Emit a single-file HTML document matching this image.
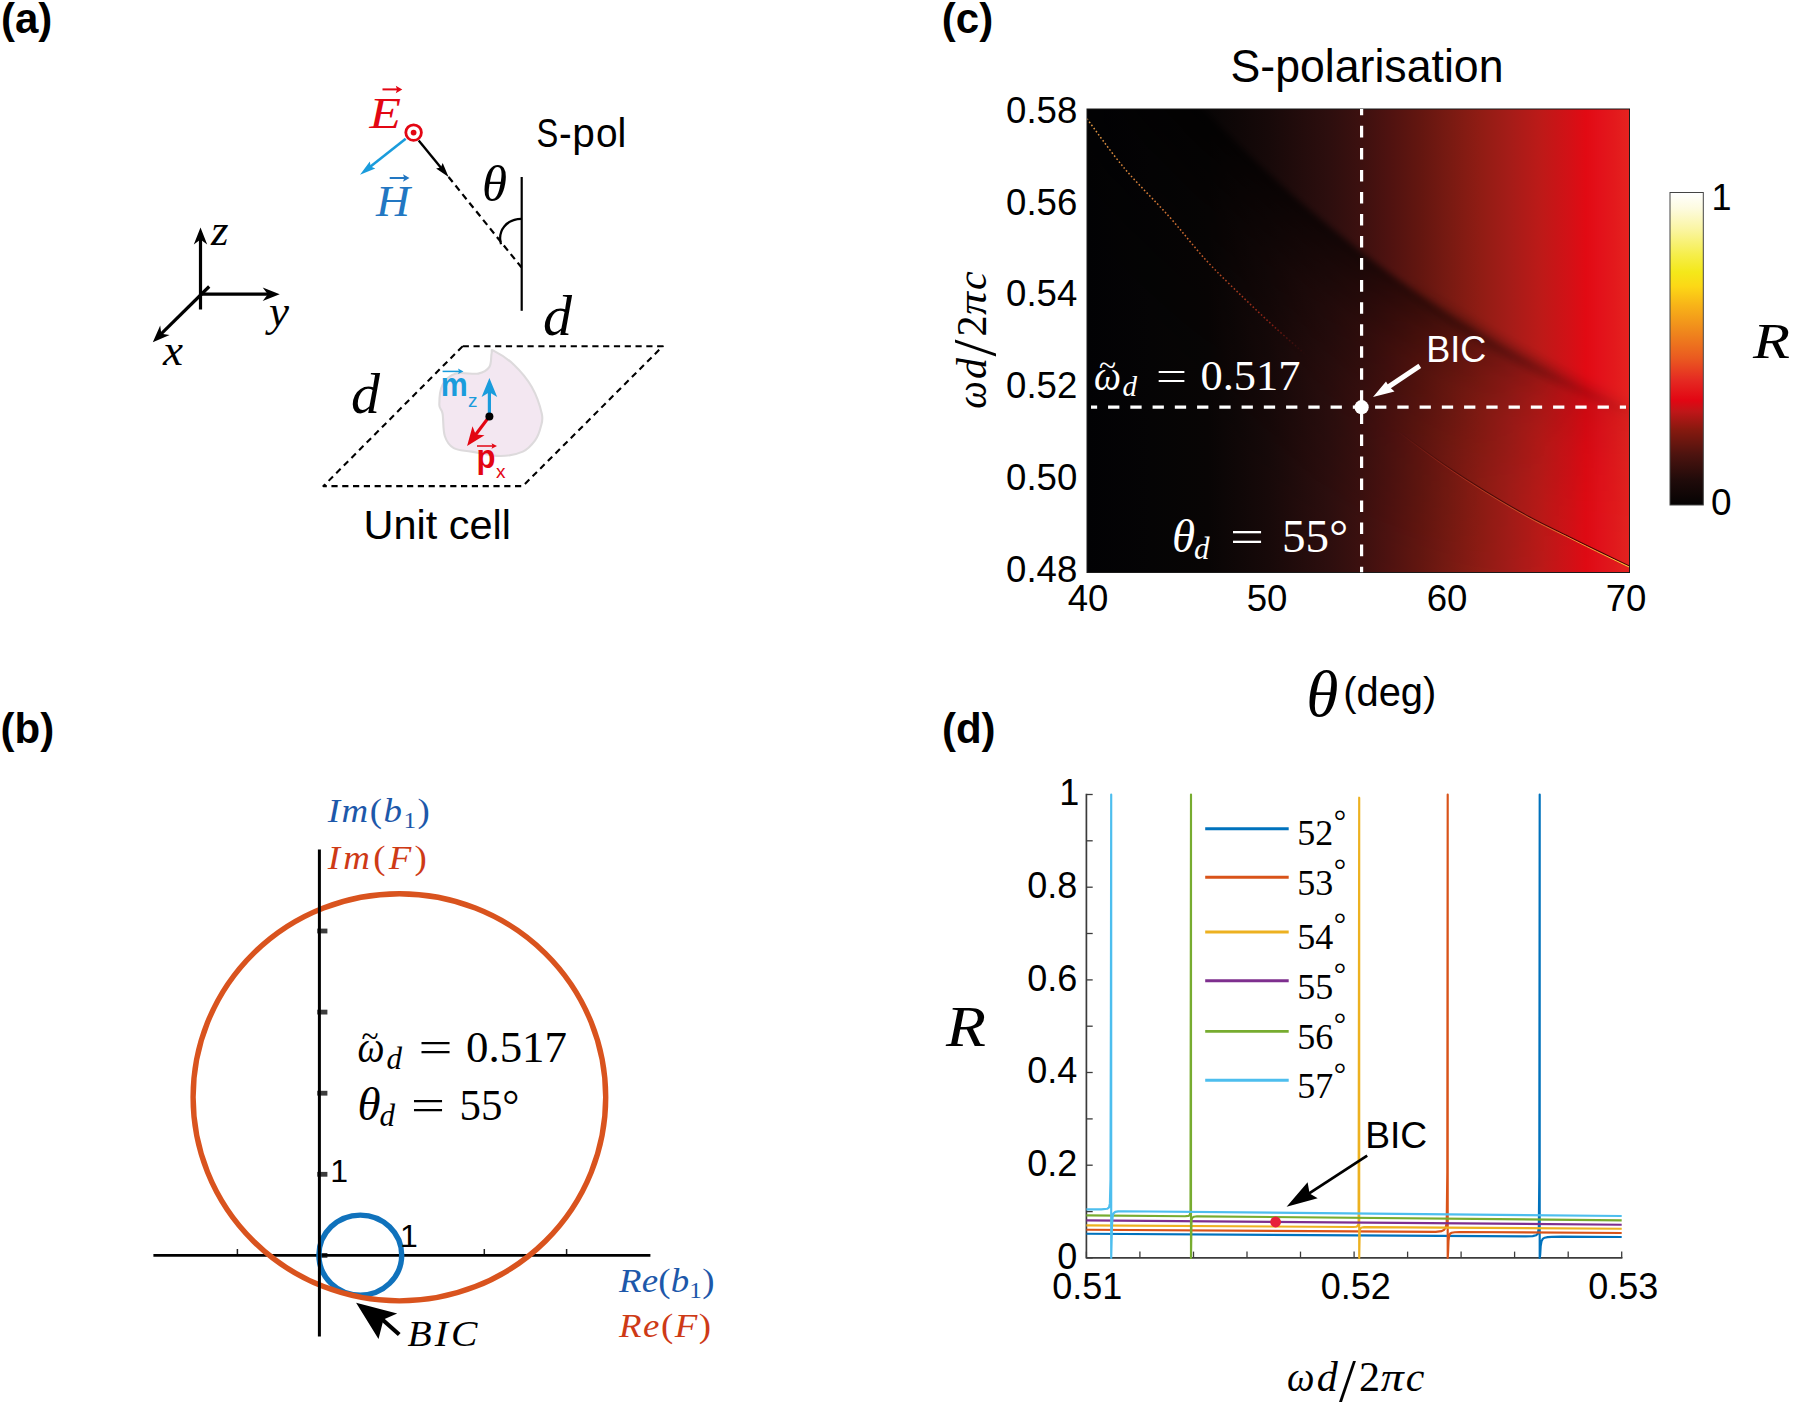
<!DOCTYPE html>
<html><head><meta charset="utf-8"><title>Figure</title>
<style>html,body{margin:0;padding:0;background:#fff}svg{display:block}</style>
</head><body>
<svg width="1795" height="1405" viewBox="0 0 1795 1405">
<rect width="1795" height="1405" fill="#fff"/>
<g id="panel-a">
<text x="1" y="33" font-family='"Liberation Sans", sans-serif' font-size="42" fill="#000" font-weight="bold" >(a)</text>
<line x1="200.5" y1="309.5" x2="200.5" y2="238.2" stroke="#000" stroke-width="3.2"/>
<polygon points="200.5,227.5 207.2,244.5 200.5,239.4 193.8,244.5" fill="#000"/>
<line x1="200.5" y1="294.2" x2="269.0" y2="294.2" stroke="#000" stroke-width="3.2"/>
<polygon points="279.7,294.2 262.7,300.9 267.8,294.2 262.7,287.4" fill="#000"/>
<line x1="209.2" y1="286.5" x2="160.4" y2="334.7" stroke="#000" stroke-width="3.2"/>
<polygon points="152.8,342.2 160.2,325.5 161.3,333.8 169.6,335.1" fill="#000"/>
<text x="211" y="244.8" font-family='"Liberation Serif", serif' font-size="45" fill="#000" font-style="italic" >z</text>
<text x="269" y="325.5" font-family='"Liberation Serif", serif' font-size="45" fill="#000" font-style="italic" >y</text>
<text x="163" y="364.6" font-family='"Liberation Serif", serif' font-size="45" fill="#000" font-style="italic" >x</text>
<line x1="521.7" y1="177" x2="521.7" y2="310.8" stroke="#000" stroke-width="2.2"/>
<line x1="448.6" y1="177" x2="521.4" y2="267.3" stroke="#000" stroke-width="2.2" stroke-dasharray="6.5 4.5"/>
<line x1="418.7" y1="140.5" x2="441.6" y2="168.4" stroke="#000" stroke-width="2.4"/>
<polygon points="448.6,177.0 436.1,168.5 440.8,167.5 442.7,163.1" fill="#000"/>
<line x1="405.7" y1="138.7" x2="369.6" y2="167.2" stroke="#1a9cdc" stroke-width="2.6"/>
<polygon points="360.0,174.8 369.8,161.4 370.7,166.4 375.3,168.4" fill="#1a9cdc"/>
<circle cx="413.6" cy="132.6" r="7.8" fill="#fff" stroke="#e30613" stroke-width="2.8"/>
<circle cx="413.6" cy="132.6" r="2.9" fill="#e30613"/>
<path d="M521.4 218.8 C506.6 219.2 497.3 230.3 501 244.2" fill="none" stroke="#000" stroke-width="2.2"/>
<text x="369.6" y="127.6" font-family='"Liberation Serif", serif' font-size="44" fill="#e30613" font-style="italic" textLength="31.5" lengthAdjust="spacingAndGlyphs" >E</text>
<line x1="382.5" y1="89.4" x2="397.6" y2="89.4" stroke="#e30613" stroke-width="2"/>
<polygon points="402.3,89.4 395.8,93.2 397.1,89.4 395.8,85.7" fill="#e30613"/>
<text x="376" y="216.4" font-family='"Liberation Serif", serif' font-size="44" fill="#2277c2" font-style="italic" textLength="34" lengthAdjust="spacingAndGlyphs" >H</text>
<line x1="389.7" y1="178.0" x2="404.8" y2="178.0" stroke="#2277c2" stroke-width="2"/>
<polygon points="409.5,178.0 403.0,181.8 404.3,178.0 403.0,174.2" fill="#2277c2"/>
<text x="482" y="201.4" font-family='"Liberation Serif", serif' font-size="51" fill="#000" font-style="italic" >θ</text>
<text y="147" font-family='"Liberation Sans", sans-serif' font-size="41" fill="#000"><tspan x="536.4" textLength="21.8" lengthAdjust="spacingAndGlyphs">S</tspan><tspan x="559" textLength="12.6" lengthAdjust="spacingAndGlyphs">-</tspan><tspan x="572.3" textLength="22.6" lengthAdjust="spacingAndGlyphs">p</tspan><tspan x="595.9" textLength="21.6" lengthAdjust="spacingAndGlyphs">o</tspan><tspan x="617.6" textLength="8.8" lengthAdjust="spacingAndGlyphs">l</tspan></text>
<polygon points="462.7,346.2 662.8,346.2 522.8,486.1 323.4,486.1" fill="none" stroke="#000" stroke-width="2.1" stroke-dasharray="6.2 4.6" stroke-linejoin="round"/>
<path d="M493.9 350.9 C497.6 352.8 507.6 358.7 513.9 364.7 C520.2 370.7 527.1 378.8 531.8 387.0 C536.4 395.2 540.3 407.0 541.8 413.7 C543.3 420.4 541.8 422.7 540.7 427.1 C539.6 431.6 538.1 436.3 535.1 440.4 C532.1 444.5 528.5 449.0 522.8 451.6 C517.0 454.2 509.1 456.0 500.6 456.0 C492.1 456.0 479.4 452.9 471.6 451.6 C463.8 450.3 458.3 450.8 453.8 448.2 C449.3 445.6 446.7 441.8 444.8 436.0 C442.9 430.2 443.5 418.9 442.6 413.7 C441.7 408.5 439.3 409.6 439.3 404.8 C439.3 400.0 439.8 389.9 442.6 384.7 C445.4 379.5 450.1 375.5 456.0 373.6 C461.9 371.8 472.7 374.7 478.3 373.6 C483.9 372.5 487.2 370.2 489.4 366.9 C491.6 363.5 490.9 356.2 491.6 353.5 C492.4 350.8 490.2 349.0 493.9 350.9Z" fill="#f3e7f1" stroke="#dddadc" stroke-width="2.1"/>
<line x1="489.4" y1="416.4" x2="489.4" y2="390.8" stroke="#1a9cdc" stroke-width="3.2"/>
<polygon points="489.4,378.0 497.2,397.0 489.4,392.2 481.6,397.0" fill="#1a9cdc"/>
<line x1="489.4" y1="416.4" x2="474.8" y2="435.8" stroke="#e30613" stroke-width="3.2"/>
<polygon points="467.1,446.0 472.5,426.3 475.7,434.6 484.5,435.3" fill="#e30613"/>
<circle cx="489.4" cy="416.4" r="4" fill="#000"/>
<text x="440.8" y="395.9" font-family='"Liberation Sans", sans-serif' font-size="34" fill="#1a9cdc" font-weight="bold" textLength="27" lengthAdjust="spacingAndGlyphs" >m</text>
<text x="468" y="407" font-family='"Liberation Sans", sans-serif' font-size="19" fill="#1a9cdc" >z</text>
<line x1="442.6" y1="371.4" x2="459.5" y2="371.4" stroke="#1a9cdc" stroke-width="1.5"/>
<polygon points="463.5,371.4 458.0,374.1 459.1,371.4 458.0,368.6" fill="#1a9cdc"/>
<text x="476.6" y="468.3" font-family='"Liberation Sans", sans-serif' font-size="34" fill="#e30613" font-weight="bold" textLength="19" lengthAdjust="spacingAndGlyphs" >p</text>
<text x="496" y="478" font-family='"Liberation Sans", sans-serif' font-size="19" fill="#e30613" >x</text>
<line x1="477.0" y1="446.0" x2="493.0" y2="446.0" stroke="#e30613" stroke-width="1.5"/>
<polygon points="497.0,446.0 491.5,448.8 492.6,446.0 491.5,443.2" fill="#e30613"/>
<text x="543" y="334.6" font-family='"Liberation Serif", serif' font-size="58" fill="#000" font-style="italic" >d</text>
<text x="351" y="412.6" font-family='"Liberation Serif", serif' font-size="58" fill="#000" font-style="italic" >d</text>
<text x="363.5" y="538.5" font-family='"Liberation Sans", sans-serif' font-size="40.5" fill="#000" textLength="147.5" lengthAdjust="spacingAndGlyphs" >Unit cell</text>
</g>
<g id="panel-b">
<text x="0.5" y="743.2" font-family='"Liberation Sans", sans-serif' font-size="42" fill="#000" font-weight="bold" >(b)</text>
<line x1="237.4" y1="1255.4" x2="237.4" y2="1249" stroke="#222" stroke-width="1.5"/>
<line x1="402.0" y1="1255.4" x2="402.0" y2="1249" stroke="#222" stroke-width="1.5"/>
<line x1="484.3" y1="1255.4" x2="484.3" y2="1249" stroke="#222" stroke-width="1.5"/>
<line x1="566.6" y1="1255.4" x2="566.6" y2="1249" stroke="#222" stroke-width="1.5"/>
<rect x="317.2" y="1253.0" width="10.2" height="4.8" fill="#3c3c3c"/>
<rect x="317.2" y="1171.9" width="10.2" height="4.8" fill="#3c3c3c"/>
<rect x="317.2" y="1090.8" width="10.2" height="4.8" fill="#3c3c3c"/>
<rect x="317.2" y="1009.7" width="10.2" height="4.8" fill="#3c3c3c"/>
<rect x="317.2" y="928.6" width="10.2" height="4.8" fill="#3c3c3c"/>
<line x1="153.4" y1="1255.4" x2="650.4" y2="1255.4" stroke="#000" stroke-width="2.8"/>
<ellipse cx="360.3" cy="1255.1" rx="41.4" ry="40" fill="none" stroke="#1072bc" stroke-width="5.4"/>
<ellipse cx="399.4" cy="1097.3" rx="206.3" ry="203.6" fill="none" stroke="#d9531e" stroke-width="5.4"/>
<line x1="319.4" y1="849.4" x2="319.4" y2="1336.6" stroke="#000" stroke-width="3"/>
<text x="330.3" y="1182.1" font-family='"Liberation Sans", sans-serif' font-size="32" fill="#000" >1</text>
<text x="400" y="1246.6" font-family='"Liberation Sans", sans-serif' font-size="32" fill="#000" >1</text>
<text x="0" y="0" font-family='"Liberation Serif", serif' font-size="33.5" fill="#1d58aa" textLength="92.73" lengthAdjust="spacing"  transform="translate(327.8,821.6) scale(1.1,1)"><tspan font-style="italic">Im</tspan>(<tspan font-style="italic">b</tspan><tspan font-size="23" dy="6">1</tspan><tspan dy="-6">)</tspan></text>
<text x="0" y="0" font-family='"Liberation Serif", serif' font-size="33.5" fill="#ce3a16" textLength="90.0" lengthAdjust="spacing"  transform="translate(327.8,868.6) scale(1.1,1)"><tspan font-style="italic">Im</tspan>(<tspan font-style="italic">F</tspan>)</text>
<text x="0" y="0" font-family='"Liberation Serif", serif' font-size="33.5" fill="#1d58aa" textLength="86.82" lengthAdjust="spacing"  transform="translate(619,1292.1) scale(1.1,1)"><tspan font-style="italic">Re</tspan>(<tspan font-style="italic">b</tspan><tspan font-size="23" dy="6">1</tspan><tspan dy="-6">)</tspan></text>
<text x="0" y="0" font-family='"Liberation Serif", serif' font-size="33.5" fill="#ce3a16" textLength="83.64" lengthAdjust="spacing"  transform="translate(619,1337.3) scale(1.1,1)"><tspan font-style="italic">Re</tspan>(<tspan font-style="italic">F</tspan>)</text>
<line x1="399.2" y1="1334.5" x2="375" y2="1313" stroke="#000" stroke-width="4.2"/>
<polygon points="356.1,1302.8 397.2,1313.4 383.5,1319.5 378.5,1338.9" fill="#000"/>
<text x="0" y="0" font-family='"Liberation Serif", serif' font-size="35" fill="#000" font-style="italic" textLength="61.95" lengthAdjust="spacing"  transform="translate(407.4,1345.6) scale(1.13,1)">BIC</text>
<text x="357.5" y="1062" font-family='"Liberation Serif", serif' font-size="45" fill="#000" font-style="italic" textLength="27" lengthAdjust="spacingAndGlyphs" >ω</text>
<text x="361.5" y="1046.5" font-family='"Liberation Serif", serif' font-size="34" fill="#000" textLength="17" lengthAdjust="spacingAndGlyphs" >~</text>
<text x="386.5" y="1068.5" font-family='"Liberation Serif", serif' font-size="31" fill="#000" font-style="italic" >d</text>
<text x="418.5" y="1062" font-family='"Liberation Serif", serif' font-size="45" fill="#000" textLength="34" lengthAdjust="spacingAndGlyphs" >=</text>
<text x="466" y="1062" font-family='"Liberation Serif", serif' font-size="45" fill="#000" textLength="101" lengthAdjust="spacingAndGlyphs" >0.517</text>
<text x="357.5" y="1119.5" font-family='"Liberation Serif", serif' font-size="47" fill="#000" font-style="italic" >θ</text>
<text x="379.5" y="1126" font-family='"Liberation Serif", serif' font-size="31" fill="#000" font-style="italic" >d</text>
<text x="411" y="1119.5" font-family='"Liberation Serif", serif' font-size="45" fill="#000" textLength="34" lengthAdjust="spacingAndGlyphs" >=</text>
<text x="459.5" y="1119.5" font-family='"Liberation Serif", serif' font-size="45" fill="#000" textLength="60" lengthAdjust="spacingAndGlyphs" >55°</text>
</g>
<g id="panel-c">
<text x="941.8" y="33" font-family='"Liberation Sans", sans-serif' font-size="42" fill="#000" font-weight="bold" >(c)</text>
<text x="1230.5" y="81.6" font-family='"Liberation Sans", sans-serif' font-size="45.5" fill="#000" textLength="273" lengthAdjust="spacingAndGlyphs" >S-polarisation</text>
<defs>
<linearGradient id="hm" gradientUnits="userSpaceOnUse" x1="1087" y1="0" x2="1629.5" y2="0">
<stop offset="0.0000" stop-color="#020204"/>
<stop offset="0.1161" stop-color="#050405"/>
<stop offset="0.2230" stop-color="#080505"/>
<stop offset="0.3336" stop-color="#170909"/>
<stop offset="0.4461" stop-color="#2d0e0e"/>
<stop offset="0.5014" stop-color="#3b100f"/>
<stop offset="0.5576" stop-color="#4f1210"/>
<stop offset="0.6138" stop-color="#631610"/>
<stop offset="0.6691" stop-color="#791a12"/>
<stop offset="0.7244" stop-color="#901c14"/>
<stop offset="0.7797" stop-color="#a51c18"/>
<stop offset="0.8350" stop-color="#bc1a18"/>
<stop offset="0.8922" stop-color="#d41016"/>
<stop offset="0.9198" stop-color="#e20a13"/>
<stop offset="0.9456" stop-color="#e3111a"/>
<stop offset="0.9714" stop-color="#e3191c"/>
<stop offset="1.0000" stop-color="#e42320"/>
</linearGradient>
<linearGradient id="cb" x1="0" y1="1" x2="0" y2="0">
<stop offset="0" stop-color="#050303"/>
<stop offset="0.08" stop-color="#200b0a"/>
<stop offset="0.16" stop-color="#4c130f"/>
<stop offset="0.24" stop-color="#86190f"/>
<stop offset="0.3" stop-color="#c01618"/>
<stop offset="0.335" stop-color="#e20613"/>
<stop offset="0.4" stop-color="#e52a22"/>
<stop offset="0.47" stop-color="#ea5a20"/>
<stop offset="0.56" stop-color="#f08a1c"/>
<stop offset="0.64" stop-color="#f8b418"/>
<stop offset="0.7" stop-color="#fcd816"/>
<stop offset="0.745" stop-color="#f4e81a"/>
<stop offset="0.8" stop-color="#f6ee4a"/>
<stop offset="0.88" stop-color="#faf5a0"/>
<stop offset="0.95" stop-color="#fdfbe0"/>
<stop offset="1" stop-color="#ffffff"/>
</linearGradient>
<clipPath id="hmclip"><rect x="1087.0" y="109.0" width="542.5" height="463.5"/></clipPath>
<clipPath id="belowray"><path d="M1141.2 41.6 L1150.3 52.0 L1159.3 62.2 L1168.4 72.3 L1177.4 82.2 L1186.5 91.9 L1195.5 101.5 L1204.5 110.9 L1213.6 120.2 L1222.6 129.3 L1231.7 138.3 L1240.7 147.1 L1249.8 155.8 L1258.8 164.4 L1267.8 172.8 L1276.9 181.1 L1285.9 189.2 L1295.0 197.2 L1304.0 205.0 L1313.0 212.8 L1322.1 220.3 L1331.1 227.8 L1340.2 235.1 L1349.2 242.3 L1358.2 249.4 L1367.3 256.4 L1376.3 263.2 L1385.4 269.9 L1394.4 276.5 L1403.5 282.9 L1412.5 289.2 L1421.5 295.5 L1430.6 301.6 L1439.6 307.5 L1448.7 313.4 L1457.7 319.2 L1466.8 324.8 L1475.8 330.3 L1484.8 335.7 L1493.9 341.0 L1502.9 346.2 L1512.0 351.3 L1521.0 356.3 L1530.0 361.1 L1539.1 365.9 L1548.1 370.5 L1557.2 375.1 L1566.2 379.5 L1575.2 383.9 L1584.3 388.1 L1593.3 392.2 L1602.4 396.3 L1611.4 400.2 L1620.5 404.0 L1629.5 407.7 L1638.5 411.4 L1647.6 414.9 L1656.6 418.3 L1665.7 421.7 L1674.7 424.9 L1683.8 428.0 L1692.8 431.1 L1701.8 434.0 L1709.5 434.0 L1709.5 652.5 L1007.0 652.5 L1007.0 29.0 L1141.2 41.6 Z"/></clipPath>
<filter id="blur18" filterUnits="userSpaceOnUse" x="700" y="-300" width="1400" height="1300"><feGaussianBlur stdDeviation="16"/></filter>
<filter id="blur5" filterUnits="userSpaceOnUse" x="700" y="-300" width="1400" height="1300"><feGaussianBlur stdDeviation="5"/></filter>
<filter id="blur3" filterUnits="userSpaceOnUse" x="700" y="-300" width="1400" height="1300"><feGaussianBlur stdDeviation="3.2"/></filter>
<linearGradient id="rayfade" gradientUnits="userSpaceOnUse" x1="1200" y1="0" x2="1629" y2="0"><stop offset="0.000" stop-color="#000" stop-opacity="1"/><stop offset="0.373" stop-color="#000" stop-opacity="0.8"/><stop offset="0.559" stop-color="#000" stop-opacity="0.62"/><stop offset="0.699" stop-color="#000" stop-opacity="0.38"/><stop offset="0.839" stop-color="#000" stop-opacity="0.16"/><stop offset="1.000" stop-color="#000" stop-opacity="0.04"/></linearGradient>
<linearGradient id="rayfadeW" gradientUnits="userSpaceOnUse" x1="1200" y1="0" x2="1629" y2="0"><stop offset="0.000" stop-color="#000" stop-opacity="1"/><stop offset="0.373" stop-color="#000" stop-opacity="0.85"/><stop offset="0.513" stop-color="#000" stop-opacity="0.6"/><stop offset="0.606" stop-color="#000" stop-opacity="0.45"/><stop offset="0.793" stop-color="#000" stop-opacity="0.2"/><stop offset="1.000" stop-color="#000" stop-opacity="0.05"/></linearGradient>
<filter id="blurA" filterUnits="userSpaceOnUse" x="700" y="-300" width="1400" height="1300"><feGaussianBlur stdDeviation="2"/></filter>
<filter id="blurB" filterUnits="userSpaceOnUse" x="700" y="-300" width="1400" height="1300"><feGaussianBlur stdDeviation="5"/></filter>
<filter id="blurC" filterUnits="userSpaceOnUse" x="700" y="-300" width="1400" height="1300"><feGaussianBlur stdDeviation="10"/></filter>
<filter id="blurD" filterUnits="userSpaceOnUse" x="700" y="-300" width="1400" height="1300"><feGaussianBlur stdDeviation="20"/></filter>
<filter id="blurE" filterUnits="userSpaceOnUse" x="700" y="-300" width="1400" height="1300"><feGaussianBlur stdDeviation="35"/></filter>
<linearGradient id="rayfade2" gradientUnits="userSpaceOnUse" x1="1200" y1="0" x2="1629" y2="0"><stop offset="0.000" stop-color="#000" stop-opacity="0"/><stop offset="0.466" stop-color="#000" stop-opacity="0.0"/><stop offset="0.629" stop-color="#000" stop-opacity="0.22"/><stop offset="0.793" stop-color="#000" stop-opacity="0.2"/><stop offset="0.909" stop-color="#000" stop-opacity="0.1"/><stop offset="1.000" stop-color="#000" stop-opacity="0.03"/></linearGradient>
<filter id="blur1" filterUnits="userSpaceOnUse" x="700" y="-300" width="1400" height="1300"><feGaussianBlur stdDeviation="0.6"/></filter>
</defs>
<rect x="1087.0" y="109.0" width="542.5" height="463.5" fill="url(#hm)"/>
<g clip-path="url(#hmclip)">
<g filter="url(#blur3)"><g clip-path="url(#belowray)">
<path d="M1141.2 41.6 L1150.3 52.0 L1159.3 62.2 L1168.4 72.3 L1177.4 82.2 L1186.5 91.9 L1195.5 101.5 L1204.5 110.9 L1213.6 120.2 L1222.6 129.3 L1231.7 138.3 L1240.7 147.1 L1249.8 155.8 L1258.8 164.4 L1267.8 172.8 L1276.9 181.1 L1285.9 189.2 L1295.0 197.2 L1304.0 205.0 L1313.0 212.8 L1322.1 220.3 L1331.1 227.8 L1340.2 235.1 L1349.2 242.3 L1358.2 249.4 L1367.3 256.4 L1376.3 263.2 L1385.4 269.9 L1394.4 276.5 L1403.5 282.9 L1412.5 289.2 L1421.5 295.5 L1430.6 301.6 L1439.6 307.5 L1448.7 313.4 L1457.7 319.2 L1466.8 324.8 L1475.8 330.3 L1484.8 335.7 L1493.9 341.0 L1502.9 346.2 L1512.0 351.3 L1521.0 356.3 L1530.0 361.1 L1539.1 365.9 L1548.1 370.5 L1557.2 375.1 L1566.2 379.5 L1575.2 383.9 L1584.3 388.1 L1593.3 392.2 L1602.4 396.3 L1611.4 400.2 L1620.5 404.0 L1629.5 407.7 L1638.5 411.4 L1647.6 414.9 L1656.6 418.3 L1665.7 421.7 L1674.7 424.9 L1683.8 428.0 L1692.8 431.1 L1701.8 434.0" fill="none" stroke="url(#rayfade)" stroke-opacity="0.26" stroke-width="20" filter="url(#blurA)"/>
<path d="M1141.2 41.6 L1150.3 52.0 L1159.3 62.2 L1168.4 72.3 L1177.4 82.2 L1186.5 91.9 L1195.5 101.5 L1204.5 110.9 L1213.6 120.2 L1222.6 129.3 L1231.7 138.3 L1240.7 147.1 L1249.8 155.8 L1258.8 164.4 L1267.8 172.8 L1276.9 181.1 L1285.9 189.2 L1295.0 197.2 L1304.0 205.0 L1313.0 212.8 L1322.1 220.3 L1331.1 227.8 L1340.2 235.1 L1349.2 242.3 L1358.2 249.4 L1367.3 256.4 L1376.3 263.2 L1385.4 269.9 L1394.4 276.5 L1403.5 282.9 L1412.5 289.2 L1421.5 295.5 L1430.6 301.6 L1439.6 307.5 L1448.7 313.4 L1457.7 319.2 L1466.8 324.8 L1475.8 330.3 L1484.8 335.7 L1493.9 341.0 L1502.9 346.2 L1512.0 351.3 L1521.0 356.3 L1530.0 361.1 L1539.1 365.9 L1548.1 370.5 L1557.2 375.1 L1566.2 379.5 L1575.2 383.9 L1584.3 388.1 L1593.3 392.2 L1602.4 396.3 L1611.4 400.2 L1620.5 404.0 L1629.5 407.7 L1638.5 411.4 L1647.6 414.9 L1656.6 418.3 L1665.7 421.7 L1674.7 424.9 L1683.8 428.0 L1692.8 431.1 L1701.8 434.0" fill="none" stroke="url(#rayfade)" stroke-opacity="0.22" stroke-width="50" filter="url(#blurB)"/>
<path d="M1141.2 41.6 L1150.3 52.0 L1159.3 62.2 L1168.4 72.3 L1177.4 82.2 L1186.5 91.9 L1195.5 101.5 L1204.5 110.9 L1213.6 120.2 L1222.6 129.3 L1231.7 138.3 L1240.7 147.1 L1249.8 155.8 L1258.8 164.4 L1267.8 172.8 L1276.9 181.1 L1285.9 189.2 L1295.0 197.2 L1304.0 205.0 L1313.0 212.8 L1322.1 220.3 L1331.1 227.8 L1340.2 235.1 L1349.2 242.3 L1358.2 249.4 L1367.3 256.4 L1376.3 263.2 L1385.4 269.9 L1394.4 276.5 L1403.5 282.9 L1412.5 289.2 L1421.5 295.5 L1430.6 301.6 L1439.6 307.5 L1448.7 313.4 L1457.7 319.2 L1466.8 324.8 L1475.8 330.3 L1484.8 335.7 L1493.9 341.0 L1502.9 346.2 L1512.0 351.3 L1521.0 356.3 L1530.0 361.1 L1539.1 365.9 L1548.1 370.5 L1557.2 375.1 L1566.2 379.5 L1575.2 383.9 L1584.3 388.1 L1593.3 392.2 L1602.4 396.3 L1611.4 400.2 L1620.5 404.0 L1629.5 407.7 L1638.5 411.4 L1647.6 414.9 L1656.6 418.3 L1665.7 421.7 L1674.7 424.9 L1683.8 428.0 L1692.8 431.1 L1701.8 434.0" fill="none" stroke="url(#rayfadeW)" stroke-opacity="0.25" stroke-width="100" filter="url(#blurC)"/>
<path d="M1141.2 41.6 L1150.3 52.0 L1159.3 62.2 L1168.4 72.3 L1177.4 82.2 L1186.5 91.9 L1195.5 101.5 L1204.5 110.9 L1213.6 120.2 L1222.6 129.3 L1231.7 138.3 L1240.7 147.1 L1249.8 155.8 L1258.8 164.4 L1267.8 172.8 L1276.9 181.1 L1285.9 189.2 L1295.0 197.2 L1304.0 205.0 L1313.0 212.8 L1322.1 220.3 L1331.1 227.8 L1340.2 235.1 L1349.2 242.3 L1358.2 249.4 L1367.3 256.4 L1376.3 263.2 L1385.4 269.9 L1394.4 276.5 L1403.5 282.9 L1412.5 289.2 L1421.5 295.5 L1430.6 301.6 L1439.6 307.5 L1448.7 313.4 L1457.7 319.2 L1466.8 324.8 L1475.8 330.3 L1484.8 335.7 L1493.9 341.0 L1502.9 346.2 L1512.0 351.3 L1521.0 356.3 L1530.0 361.1 L1539.1 365.9 L1548.1 370.5 L1557.2 375.1 L1566.2 379.5 L1575.2 383.9 L1584.3 388.1 L1593.3 392.2 L1602.4 396.3 L1611.4 400.2 L1620.5 404.0 L1629.5 407.7 L1638.5 411.4 L1647.6 414.9 L1656.6 418.3 L1665.7 421.7 L1674.7 424.9 L1683.8 428.0 L1692.8 431.1 L1701.8 434.0" fill="none" stroke="url(#rayfadeW)" stroke-opacity="0.2" stroke-width="200" filter="url(#blurD)"/>
<path d="M1141.2 41.6 L1150.3 52.0 L1159.3 62.2 L1168.4 72.3 L1177.4 82.2 L1186.5 91.9 L1195.5 101.5 L1204.5 110.9 L1213.6 120.2 L1222.6 129.3 L1231.7 138.3 L1240.7 147.1 L1249.8 155.8 L1258.8 164.4 L1267.8 172.8 L1276.9 181.1 L1285.9 189.2 L1295.0 197.2 L1304.0 205.0 L1313.0 212.8 L1322.1 220.3 L1331.1 227.8 L1340.2 235.1 L1349.2 242.3 L1358.2 249.4 L1367.3 256.4 L1376.3 263.2 L1385.4 269.9 L1394.4 276.5 L1403.5 282.9 L1412.5 289.2 L1421.5 295.5 L1430.6 301.6 L1439.6 307.5 L1448.7 313.4 L1457.7 319.2 L1466.8 324.8 L1475.8 330.3 L1484.8 335.7 L1493.9 341.0 L1502.9 346.2 L1512.0 351.3 L1521.0 356.3 L1530.0 361.1 L1539.1 365.9 L1548.1 370.5 L1557.2 375.1 L1566.2 379.5 L1575.2 383.9 L1584.3 388.1 L1593.3 392.2 L1602.4 396.3 L1611.4 400.2 L1620.5 404.0 L1629.5 407.7 L1638.5 411.4 L1647.6 414.9 L1656.6 418.3 L1665.7 421.7 L1674.7 424.9 L1683.8 428.0 L1692.8 431.1 L1701.8 434.0" fill="none" stroke="url(#rayfadeW)" stroke-opacity="0.12" stroke-width="400" filter="url(#blurE)"/>
</g></g>
<path d="M1141.2 41.6 L1150.3 52.0 L1159.3 62.2 L1168.4 72.3 L1177.4 82.2 L1186.5 91.9 L1195.5 101.5 L1204.5 110.9 L1213.6 120.2 L1222.6 129.3 L1231.7 138.3 L1240.7 147.1 L1249.8 155.8 L1258.8 164.4 L1267.8 172.8 L1276.9 181.1 L1285.9 189.2 L1295.0 197.2 L1304.0 205.0 L1313.0 212.8 L1322.1 220.3 L1331.1 227.8 L1340.2 235.1 L1349.2 242.3 L1358.2 249.4 L1367.3 256.4 L1376.3 263.2 L1385.4 269.9 L1394.4 276.5 L1403.5 282.9 L1412.5 289.2 L1421.5 295.5 L1430.6 301.6 L1439.6 307.5 L1448.7 313.4 L1457.7 319.2 L1466.8 324.8 L1475.8 330.3 L1484.8 335.7 L1493.9 341.0 L1502.9 346.2 L1512.0 351.3 L1521.0 356.3 L1530.0 361.1 L1539.1 365.9 L1548.1 370.5 L1557.2 375.1 L1566.2 379.5 L1575.2 383.9 L1584.3 388.1 L1593.3 392.2 L1602.4 396.3 L1611.4 400.2 L1620.5 404.0 L1629.5 407.7 L1638.5 411.4 L1647.6 414.9 L1656.6 418.3 L1665.7 421.7 L1674.7 424.9 L1683.8 428.0 L1692.8 431.1 L1701.8 434.0" fill="none" stroke="url(#rayfade2)" stroke-width="14" filter="url(#blurB)"/>
<linearGradient id="upg" gradientUnits="userSpaceOnUse" x1="1087" y1="118" x2="1305" y2="355"><stop offset="0" stop-color="#f7a84a" stop-opacity="1"/><stop offset="0.5" stop-color="#f07a35" stop-opacity="0.95"/><stop offset="0.85" stop-color="#d8301c" stop-opacity="0.7"/><stop offset="1" stop-color="#b01a14" stop-opacity="0"/></linearGradient>
<path d="M1087.0 118.8 C1093.2 127.0 1110.8 152.1 1124.4 168.3 C1138.0 184.5 1155.1 200.8 1168.8 216.2 C1182.5 231.6 1193.9 246.9 1206.4 260.6 C1218.9 274.3 1232.6 287.1 1244.0 298.2 C1255.4 309.3 1264.5 317.8 1274.7 327.2 C1285.0 336.6 1300.4 349.9 1305.5 354.5" fill="none" stroke="url(#upg)" stroke-width="1.5" stroke-dasharray="1.6 2.2" stroke-opacity="0.9"/>
<linearGradient id="log" gradientUnits="userSpaceOnUse" x1="1397" y1="430" x2="1629" y2="565"><stop offset="0" stop-color="#d42a1a" stop-opacity="0"/><stop offset="0.3" stop-color="#e0452a" stop-opacity="0.45"/><stop offset="0.6" stop-color="#ee8a3a" stop-opacity="0.6"/><stop offset="0.85" stop-color="#f3c040" stop-opacity="0.85"/><stop offset="1" stop-color="#f6d838" stop-opacity="1"/></linearGradient>
<linearGradient id="logd" gradientUnits="userSpaceOnUse" x1="1397" y1="430" x2="1629" y2="565"><stop offset="0" stop-color="#200" stop-opacity="0"/><stop offset="0.4" stop-color="#200" stop-opacity="0.6"/><stop offset="1" stop-color="#300" stop-opacity="0.9"/></linearGradient>
<path d="M1399.0 432.5 C1406.2 437.8 1427.9 454.3 1442.4 464.3 C1456.9 474.3 1471.4 483.7 1485.9 492.6 C1500.4 501.5 1515.1 510.2 1529.3 517.9 C1543.5 525.6 1559.5 533.0 1571.3 538.9 C1583.1 544.8 1590.3 548.3 1600.0 553.0 C1609.7 557.7 1624.6 564.8 1629.5 567.2" fill="none" stroke="url(#logd)" stroke-width="1.2" transform="translate(0.5,-0.9)"/>
<path d="M1399.0 432.5 C1406.2 437.8 1427.9 454.3 1442.4 464.3 C1456.9 474.3 1471.4 483.7 1485.9 492.6 C1500.4 501.5 1515.1 510.2 1529.3 517.9 C1543.5 525.6 1559.5 533.0 1571.3 538.9 C1583.1 544.8 1590.3 548.3 1600.0 553.0 C1609.7 557.7 1624.6 564.8 1629.5 567.2" fill="none" stroke="url(#log)" stroke-width="1.0"/>
</g>
<rect x="1087.0" y="109.0" width="542.5" height="463.5" fill="none" stroke="#1a1a1a" stroke-width="1"/>
<line x1="1091" y1="407.2" x2="1626" y2="407.2" stroke="#fff" stroke-width="3.2" stroke-dasharray="11.3 10.95" stroke-dashoffset="5.17"/>
<line x1="1361.6" y1="109" x2="1361.6" y2="572.3" stroke="#fff" stroke-width="3.2" stroke-dasharray="11.55 10.49" stroke-dashoffset="5.2"/>
<circle cx="1361.6" cy="407.2" r="7.1" fill="#fff"/>
<text x="1426.2" y="362.2" font-family='"Liberation Sans", sans-serif' font-size="36.5" fill="#fff" textLength="60" lengthAdjust="spacingAndGlyphs" >BIC</text>
<line x1="1419.8" y1="365.9" x2="1388" y2="387.1" stroke="#fff" stroke-width="5"/>
<polygon points="1373,397 1386,381.5 1389,386.5 1394.5,391.5" fill="#fff"/>
<text x="1094" y="390" font-family='"Liberation Serif", serif' font-size="42" fill="#fff" font-style="italic" textLength="27" lengthAdjust="spacingAndGlyphs" >ω</text>
<text x="1099" y="375.5" font-family='"Liberation Serif", serif' font-size="32" fill="#fff" textLength="17" lengthAdjust="spacingAndGlyphs" >~</text>
<text x="1122.5" y="396" font-family='"Liberation Serif", serif' font-size="29" fill="#fff" font-style="italic" >d</text>
<text x="1156" y="390" font-family='"Liberation Serif", serif' font-size="42" fill="#fff" textLength="31" lengthAdjust="spacingAndGlyphs" >=</text>
<text x="1200.5" y="390" font-family='"Liberation Serif", serif' font-size="42" fill="#fff" textLength="100" lengthAdjust="spacingAndGlyphs" >0.517</text>
<text x="1172" y="551.7" font-family='"Liberation Serif", serif' font-size="47" fill="#fff" font-style="italic" >θ</text>
<text x="1194" y="558.5" font-family='"Liberation Serif", serif' font-size="31" fill="#fff" font-style="italic" >d</text>
<text x="1230" y="551.7" font-family='"Liberation Serif", serif' font-size="46" fill="#fff" textLength="34" lengthAdjust="spacingAndGlyphs" >=</text>
<text x="1282" y="551.7" font-family='"Liberation Serif", serif' font-size="46" fill="#fff" textLength="66" lengthAdjust="spacingAndGlyphs" >55°</text>
<text x="1077.3" y="123" font-family='"Liberation Sans", sans-serif' font-size="36.6" fill="#000" text-anchor="end" >0.58</text>
<text x="1077.3" y="214.7" font-family='"Liberation Sans", sans-serif' font-size="36.6" fill="#000" text-anchor="end" >0.56</text>
<text x="1077.3" y="306.4" font-family='"Liberation Sans", sans-serif' font-size="36.6" fill="#000" text-anchor="end" >0.54</text>
<text x="1077.3" y="398" font-family='"Liberation Sans", sans-serif' font-size="36.6" fill="#000" text-anchor="end" >0.52</text>
<text x="1077.3" y="490" font-family='"Liberation Sans", sans-serif' font-size="36.6" fill="#000" text-anchor="end" >0.50</text>
<text x="1077.3" y="582.2" font-family='"Liberation Sans", sans-serif' font-size="36.6" fill="#000" text-anchor="end" >0.48</text>
<text x="1088" y="611.3" font-family='"Liberation Sans", sans-serif' font-size="36.6" fill="#000" text-anchor="middle" >40</text>
<text x="1267" y="611.3" font-family='"Liberation Sans", sans-serif' font-size="36.6" fill="#000" text-anchor="middle" >50</text>
<text x="1447" y="611.3" font-family='"Liberation Sans", sans-serif' font-size="36.6" fill="#000" text-anchor="middle" >60</text>
<text x="1626" y="611.3" font-family='"Liberation Sans", sans-serif' font-size="36.6" fill="#000" text-anchor="middle" >70</text>
<text x="1306.3" y="716.4" font-family='"Liberation Serif", serif' font-size="65.5" fill="#000" font-style="italic" >θ</text>
<text x="1343.3" y="706.2" font-family='"Liberation Sans", sans-serif' font-size="41" fill="#000" textLength="93" lengthAdjust="spacingAndGlyphs" >(deg)</text>
<g transform="translate(985.5,408.2) rotate(-90)">
<text font-family='"Liberation Serif", serif' font-size="42" fill="#000"><tspan font-style="italic" x="-0.5" textLength="27.5" lengthAdjust="spacingAndGlyphs">ω</tspan><tspan font-style="italic" x="29.3">d</tspan><tspan font-size="61" x="51.6" dy="9.8">/</tspan><tspan x="71.6" dy="-9.8">2</tspan><tspan font-style="italic" x="93.2" textLength="23" lengthAdjust="spacingAndGlyphs">π</tspan><tspan font-style="italic" x="118.3">c</tspan></text>
</g>
<rect x="1670" y="192.5" width="33.3" height="312.5" fill="url(#cb)" stroke="#444" stroke-width="1"/>
<text x="1711.6" y="209.9" font-family='"Liberation Sans", sans-serif' font-size="36" fill="#000" >1</text>
<text x="1711" y="515" font-family='"Liberation Sans", sans-serif' font-size="37" fill="#000" >0</text>
<text x="1753" y="358" font-family='"Liberation Serif", serif' font-size="51" fill="#000" font-style="italic" textLength="37" lengthAdjust="spacingAndGlyphs" >R</text>
</g>
<g id="panel-d">
<text x="941.9" y="743.1" font-family='"Liberation Sans", sans-serif' font-size="42" fill="#000" font-weight="bold" >(d)</text>
<line x1="1086.4" y1="793.8" x2="1086.4" y2="1258.6000000000001" stroke="#3c3c3c" stroke-width="1.7"/>
<line x1="1086.4" y1="1257.9" x2="1622.4" y2="1257.9" stroke="#3c3c3c" stroke-width="1.7"/>
<line x1="1086.4" y1="1257.9" x2="1092.7" y2="1257.9" stroke="#3c3c3c" stroke-width="1.3"/>
<line x1="1086.4" y1="1257.9" x2="1086.4" y2="1251.6000000000001" stroke="#3c3c3c" stroke-width="1.3"/>
<line x1="1086.4" y1="1211.6" x2="1092.7" y2="1211.6" stroke="#3c3c3c" stroke-width="1.3"/>
<line x1="1139.9" y1="1257.9" x2="1139.9" y2="1251.6000000000001" stroke="#3c3c3c" stroke-width="1.3"/>
<line x1="1086.4" y1="1165.2" x2="1092.7" y2="1165.2" stroke="#3c3c3c" stroke-width="1.3"/>
<line x1="1193.5" y1="1257.9" x2="1193.5" y2="1251.6000000000001" stroke="#3c3c3c" stroke-width="1.3"/>
<line x1="1086.4" y1="1118.9" x2="1092.7" y2="1118.9" stroke="#3c3c3c" stroke-width="1.3"/>
<line x1="1247.0" y1="1257.9" x2="1247.0" y2="1251.6000000000001" stroke="#3c3c3c" stroke-width="1.3"/>
<line x1="1086.4" y1="1072.5" x2="1092.7" y2="1072.5" stroke="#3c3c3c" stroke-width="1.3"/>
<line x1="1300.5" y1="1257.9" x2="1300.5" y2="1251.6000000000001" stroke="#3c3c3c" stroke-width="1.3"/>
<line x1="1086.4" y1="1026.2" x2="1092.7" y2="1026.2" stroke="#3c3c3c" stroke-width="1.3"/>
<line x1="1354.1" y1="1257.9" x2="1354.1" y2="1251.6000000000001" stroke="#3c3c3c" stroke-width="1.3"/>
<line x1="1086.4" y1="979.9" x2="1092.7" y2="979.9" stroke="#3c3c3c" stroke-width="1.3"/>
<line x1="1407.6" y1="1257.9" x2="1407.6" y2="1251.6000000000001" stroke="#3c3c3c" stroke-width="1.3"/>
<line x1="1086.4" y1="933.5" x2="1092.7" y2="933.5" stroke="#3c3c3c" stroke-width="1.3"/>
<line x1="1461.1" y1="1257.9" x2="1461.1" y2="1251.6000000000001" stroke="#3c3c3c" stroke-width="1.3"/>
<line x1="1086.4" y1="887.2" x2="1092.7" y2="887.2" stroke="#3c3c3c" stroke-width="1.3"/>
<line x1="1514.6" y1="1257.9" x2="1514.6" y2="1251.6000000000001" stroke="#3c3c3c" stroke-width="1.3"/>
<line x1="1086.4" y1="840.8" x2="1092.7" y2="840.8" stroke="#3c3c3c" stroke-width="1.3"/>
<line x1="1568.2" y1="1257.9" x2="1568.2" y2="1251.6000000000001" stroke="#3c3c3c" stroke-width="1.3"/>
<line x1="1086.4" y1="794.5" x2="1092.7" y2="794.5" stroke="#3c3c3c" stroke-width="1.3"/>
<line x1="1621.7" y1="1257.9" x2="1621.7" y2="1251.6000000000001" stroke="#3c3c3c" stroke-width="1.3"/>
<text x="1077.3" y="1268.7" font-family='"Liberation Sans", sans-serif' font-size="36" fill="#000" text-anchor="end" >0</text>
<text x="1077.3" y="1176.02" font-family='"Liberation Sans", sans-serif' font-size="36" fill="#000" text-anchor="end" >0.2</text>
<text x="1077.3" y="1083.34" font-family='"Liberation Sans", sans-serif' font-size="36" fill="#000" text-anchor="end" >0.4</text>
<text x="1077.3" y="990.66" font-family='"Liberation Sans", sans-serif' font-size="36" fill="#000" text-anchor="end" >0.6</text>
<text x="1077.3" y="897.98" font-family='"Liberation Sans", sans-serif' font-size="36" fill="#000" text-anchor="end" >0.8</text>
<text x="1079.2" y="805.3" font-family='"Liberation Sans", sans-serif' font-size="36" fill="#000" text-anchor="end" >1</text>
<text x="1087.3" y="1299.2" font-family='"Liberation Sans", sans-serif' font-size="36" fill="#000" text-anchor="middle" >0.51</text>
<text x="1355.8" y="1299.2" font-family='"Liberation Sans", sans-serif' font-size="36" fill="#000" text-anchor="middle" >0.52</text>
<text x="1623.2" y="1299.2" font-family='"Liberation Sans", sans-serif' font-size="36" fill="#000" text-anchor="middle" >0.53</text>
<path d="M1086.4 1233.7 L1525.7 1236.4 L1532.7 1236.1 L1536.2 1235.3 L1537.9 1233.5 L1538.8 1227.5 L1539.3 1176.5 L1539.7 794.5 L1539.7 1257.9 L1540.2 1254.5 L1540.7 1246.0 L1541.5 1241.3 L1542.7 1238.9 L1544.7 1237.7 L1547.7 1237.1 L1551.7 1236.9 L1561.7 1236.6 L1621.7 1237.0" fill="none" stroke="#0072BD" stroke-width="2.15" stroke-linejoin="round"/>
<path d="M1086.4 1229.7 L1435.7 1231.9 L1441.7 1231.1 L1444.2 1229.7 L1445.7 1227.4 L1446.7 1222.9 L1447.3 1171.9 L1447.7 794.5 L1447.7 1257.9 L1448.1 1251.9 L1448.5 1240.9 L1449.2 1235.4 L1450.2 1233.5 L1451.7 1232.7 L1454.7 1232.2 L1459.7 1232.0 L1621.7 1233.0" fill="none" stroke="#D95319" stroke-width="2.15" stroke-linejoin="round"/>
<path d="M1086.4 1225.3 L1353.2 1227.0 L1356.2 1226.7 L1357.7 1226.0 L1358.6 1223.5 L1359.2 797.7 L1359.2 1257.9 L1359.7 1230.5 L1360.4 1228.5 L1361.7 1227.5 L1364.2 1227.1 L1621.7 1228.7" fill="none" stroke="#EDB120" stroke-width="2.15" stroke-linejoin="round"/>
<path d="M1086.4 1220.3 L1621.7 1224.7" fill="none" stroke="#7E2F8E" stroke-width="2.15"/>
<path d="M1086.4 1215.3 L1185.0 1216.2 L1188.5 1215.9 L1189.8 1215.0 L1190.5 1211.3 L1191.0 794.5 L1191.0 1257.9 L1191.5 1219.8 L1192.2 1217.8 L1194.0 1216.7 L1197.0 1216.3 L1621.7 1220.3" fill="none" stroke="#77AC30" stroke-width="2.15" stroke-linejoin="round"/>
<path d="M1086.4 1209.4 L1101.2 1209.4 L1107.2 1208.8 L1109.0 1207.4 L1109.9 1203.4 L1110.5 1179.4 L1110.9 1009.4 L1111.2 794.5 L1111.2 1257.9 L1111.6 1241.1 L1112.0 1225.1 L1112.6 1217.1 L1113.5 1213.3 L1115.2 1211.9 L1118.2 1211.4 L1123.2 1211.2 L1621.7 1216.0" fill="none" stroke="#4DBEEE" stroke-width="2.15" stroke-linejoin="round"/>
<circle cx="1275.6" cy="1222" r="5.4" fill="#e8213a"/>
<text x="1365.2" y="1147.8" font-family='"Liberation Sans", sans-serif' font-size="36" fill="#000" textLength="62" lengthAdjust="spacingAndGlyphs" >BIC</text>
<line x1="1367.2" y1="1155.7" x2="1308" y2="1194.2" stroke="#000" stroke-width="2.8"/>
<polygon points="1286.6,1206.8 1307.6,1182.2 1309.6,1193.6 1317.7,1198.3" fill="#000"/>
<line x1="1205.2" y1="828.7" x2="1288.7" y2="828.7" stroke="#0072BD" stroke-width="2.9"/>
<text x="1297.3" y="845.4000000000001" font-family='"Liberation Serif", serif' font-size="36" fill="#000" >52</text>
<text x="1333.8" y="831.6" font-family='"Liberation Serif", serif' font-size="31" fill="#000" >°</text>
<line x1="1205.2" y1="877.3" x2="1288.7" y2="877.3" stroke="#D95319" stroke-width="2.9"/>
<text x="1297.3" y="895.2" font-family='"Liberation Serif", serif' font-size="36" fill="#000" >53</text>
<text x="1333.8" y="881.4" font-family='"Liberation Serif", serif' font-size="31" fill="#000" >°</text>
<line x1="1205.2" y1="932" x2="1288.7" y2="932" stroke="#EDB120" stroke-width="2.9"/>
<text x="1297.3" y="949.2" font-family='"Liberation Serif", serif' font-size="36" fill="#000" >54</text>
<text x="1333.8" y="935.4" font-family='"Liberation Serif", serif' font-size="31" fill="#000" >°</text>
<line x1="1205.2" y1="980.7" x2="1288.7" y2="980.7" stroke="#7E2F8E" stroke-width="2.9"/>
<text x="1297.3" y="998.5" font-family='"Liberation Serif", serif' font-size="36" fill="#000" >55</text>
<text x="1333.8" y="984.6999999999999" font-family='"Liberation Serif", serif' font-size="31" fill="#000" >°</text>
<line x1="1205.2" y1="1031.4" x2="1288.7" y2="1031.4" stroke="#77AC30" stroke-width="2.9"/>
<text x="1297.3" y="1049.0" font-family='"Liberation Serif", serif' font-size="36" fill="#000" >56</text>
<text x="1333.8" y="1035.2" font-family='"Liberation Serif", serif' font-size="31" fill="#000" >°</text>
<line x1="1205.2" y1="1080.3" x2="1288.7" y2="1080.3" stroke="#4DBEEE" stroke-width="2.9"/>
<text x="1297.3" y="1098.4" font-family='"Liberation Serif", serif' font-size="36" fill="#000" >57</text>
<text x="1333.8" y="1084.6000000000001" font-family='"Liberation Serif", serif' font-size="31" fill="#000" >°</text>
<text x="946" y="1045.5" font-family='"Liberation Serif", serif' font-size="56" fill="#000" font-style="italic" textLength="40" lengthAdjust="spacingAndGlyphs" >R</text>
<g transform="translate(1287.5,1390.9)"><text font-family='"Liberation Serif", serif' font-size="42" fill="#000"><tspan font-style="italic" x="-0.5" textLength="27.5" lengthAdjust="spacingAndGlyphs">ω</tspan><tspan font-style="italic" x="29.3">d</tspan><tspan font-size="61" x="51.6" dy="9.8">/</tspan><tspan x="71.6" dy="-9.8">2</tspan><tspan font-style="italic" x="93.2" textLength="23" lengthAdjust="spacingAndGlyphs">π</tspan><tspan font-style="italic" x="118.3">c</tspan></text></g>
</g>
</svg>
</body></html>
